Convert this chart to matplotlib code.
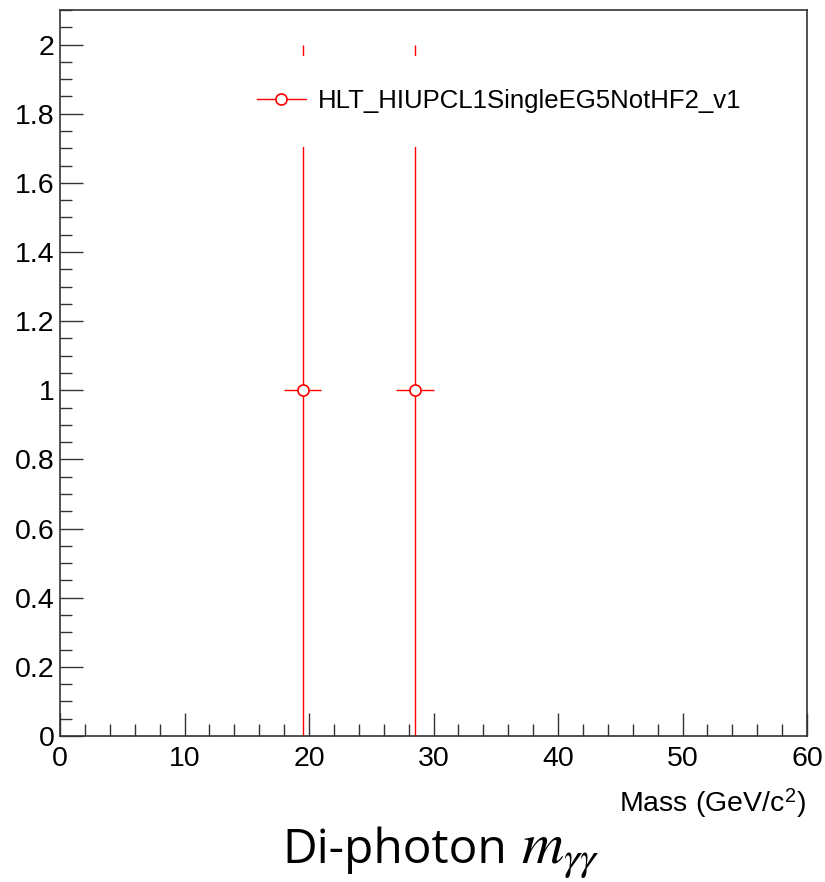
import matplotlib
matplotlib.use("Agg")
import matplotlib.pyplot as plt
from matplotlib.lines import Line2D
from matplotlib.patches import Rectangle
from matplotlib.ticker import MultipleLocator
import numpy as np

plt.rcParams["font.family"] = ["Liberation Sans", "DejaVu Sans"]
plt.rcParams["mathtext.fontset"] = "stix"

# data: two filled bins of the di-photon mass histogram
mass = np.array([19.5, 28.5])
counts = np.array([1.0, 1.0])
xerr = np.array([1.5, 1.5])
yerr = np.array([1.0, 1.0])
label = "HLT_HIUPCL1SingleEG5NotHF2_v1"

fig = plt.figure(figsize=(8.25, 8.82), dpi=100)
ax = fig.add_axes([60 / 825, 1 - 736 / 882, 747 / 825, 726 / 882])

red = "#ff0000"
ax.errorbar(mass, counts, xerr=xerr, yerr=yerr, fmt="o", color=red,
            ecolor=red, elinewidth=1.0, capsize=0, markersize=8,
            markerfacecolor="white", markeredgecolor=red, markeredgewidth=1.2,
            zorder=2)

ax.set_xlim(0, 60)
ax.set_ylim(0, 2.1)

ax.xaxis.set_major_locator(MultipleLocator(10))
ax.xaxis.set_minor_locator(MultipleLocator(2))
ax.yaxis.set_major_locator(MultipleLocator(0.2))
ax.yaxis.set_minor_locator(MultipleLocator(0.05))
ax.tick_params(which="both", direction="in", top=False, right=False,
               colors="#333333", labelcolor="black", labelsize=20.5)
ax.tick_params(which="major", length=16.3, width=1)
ax.tick_params(which="minor", length=8.5, width=1)
ax.tick_params(axis="x", pad=7)
ax.tick_params(axis="y", pad=4)
ax.yaxis.set_major_formatter(plt.FuncFormatter(lambda v, p: f"{v:g}"))
ax.xaxis.set_major_formatter(plt.FuncFormatter(lambda v, p: f"{v:g}"))
for s in ax.spines.values():
    s.set_color("#333333")
    s.set_linewidth(1.2)

# legend pad covering the error bars
ax.add_patch(Rectangle((0.254, 0.811), 0.69, 0.126, transform=ax.transAxes,
                       facecolor="white", edgecolor="none", zorder=3))
handle = Line2D([], [], color=red, lw=1.0, marker="o", markersize=8,
                markerfacecolor="white", markeredgecolor=red, markeredgewidth=1.2)
leg = ax.legend([handle], [label], loc="center left", frameon=False,
                bbox_to_anchor=(0.25, 0.874), fontsize=18.5, handlelength=1.9,
                handletextpad=0.45, borderaxespad=0)
leg.set_zorder(4)

fig.text(806 / 825, 1 - 804 / 882, "Mass (GeV/c$^{\\mathregular{2}}$)", ha="right",
         va="center", fontsize=20.5)

# caption below the plot
fig.text(507 / 825, 1 - 863 / 882, "Di-photon", ha="right", va="baseline",
         fontsize=34.5, family=["Open Sans", "DejaVu Sans"])
fig.text(521 / 825, 1 - 863 / 882, "$m_{\\gamma\\gamma}$", ha="left", va="baseline",
         fontsize=42)

fig.savefig("out.png", dpi=100)
